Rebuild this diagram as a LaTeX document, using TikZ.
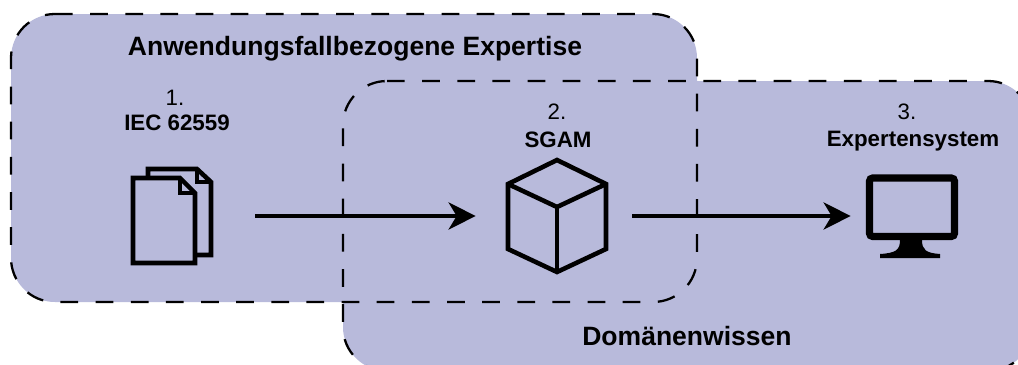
\documentclass[tikz,border=0pt]{standalone}
\usepackage{fontspec}
\setmainfont{Liberation Sans}
\usetikzlibrary{arrows.meta}
\definecolor{regionblue}{HTML}{B8BADB}
\begin{document}
\begin{tikzpicture}[x=0.02cm,y=-0.02cm,
    region/.style={draw=black, line width=1.3pt, dash pattern=on 10.1pt off 9.9pt},
    icon/.style={draw=black, line width=2.6pt, line join=miter},
    iconbox/.style={rectangle, inner sep=0pt},
    flow/.style={-{Stealth[length=0.54cm, width=0.54cm, inset=0.16cm]}, line width=2.6pt},
    title/.style={font=\bfseries\fontsize{15.1}{18}\selectfont},
    number/.style={font=\fontsize{12.7}{15}\selectfont},
    label/.style={font=\bfseries\fontsize{12.7}{15}\selectfont}
]
    \useasboundingbox (0,0) rectangle (1018,365);

    % Regions: fill first, dashes on top
    \fill[regionblue, rounded corners=0.88cm] (55,14) -| (697,302) -| (11,14) -- (55,14);
    \fill[regionblue, rounded corners=0.88cm] (387,81) -| (1032,371) -| (343,81) -- (387,81);
    \draw[region, rounded corners=0.88cm] (55,14) -| (697,302) -| (11,14) -- (55,14);
    \draw[region, rounded corners=0.88cm] (387,81) -| (1032,371) -| (343,81) -- (387,81);

    % Region titles
    \node[title] (usecase) at (355,49) {Anwendungsfallbezogene Expertise};
    \node[title] (domain) at (687,336) {Domänenwissen};

    % Step labels
    \node[number] (num1) at (175,98) {1.};
    \node[label] (iec) at (177,123) {IEC 62559};
    \node[number] (num2) at (557,112) {2.};
    \node[label] (sgam) at (558,140) {SGAM};
    \node[number] (num3) at (907,112) {3.};
    \node[label] (expert) at (913,141) {Expertensystem};

    % Icon places
    \node[iconbox, minimum width=1.64cm, minimum height=1.9cm] (docs) at (172,216) {};
    \node[iconbox, minimum width=1.96cm, minimum height=2.24cm] (cube) at (557,216) {};
    \node[iconbox, minimum width=1.88cm, minimum height=1.68cm] (screen) at (911,216) {};

    % Documents
    \draw[icon] (133,178) -- (180,178) -- (195,193) -- (195,263) -- (133,263) -- cycle;
    \draw[icon] (180,178) -- (180,193) -- (195,193);
    \draw[icon] (148,178) -- (148,169) -- (197,169) -- (211,182) -- (211,255) -- (195,255);
    \draw[icon] (197,169) -- (197,182) -- (211,182);

    % Cube
    \draw[icon] (557,160) -- (606,184) -- (606,249) -- (557,272) -- (508,249) -- (508,184) -- cycle;
    \draw[icon] (508,184) -- (557,207) -- (606,184);
    \draw[icon] (557,207) -- (557,272);

    % Monitor
    \draw[draw=black, line width=4pt, rounded corners=0.06cm] (869.5,178) rectangle (954.5,236.5);
    \fill[black] (900,240) .. controls (900,250) and (896,253) .. (880,254) -- (880,258) -- (940,258) -- (940,254) .. controls (926,253) and (922,250) .. (922,240) -- cycle;

    % Arrows through pipeline
    \draw[flow, shorten <=0.84cm, shorten >=0.64cm] (docs.east) -- (cube.west);
    \draw[flow, shorten <=0.52cm, shorten >=0.26cm] (cube.east) -- (screen.west);
\end{tikzpicture}
\end{document}
